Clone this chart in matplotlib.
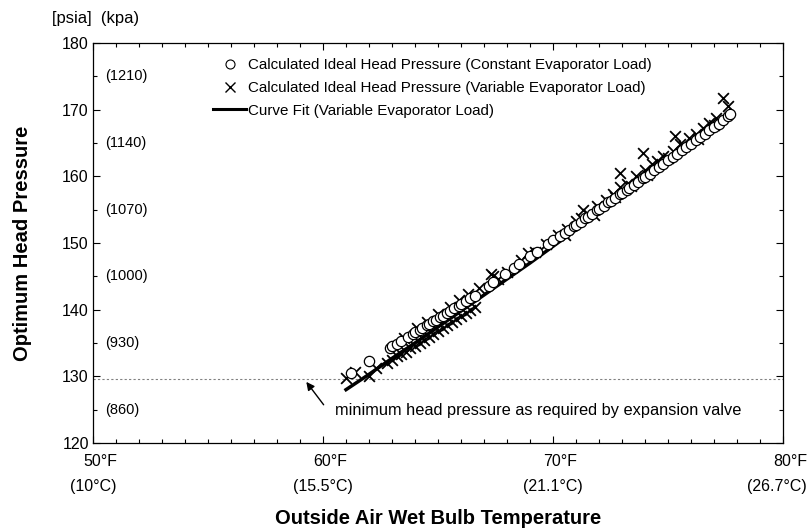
import matplotlib
matplotlib.use("Agg")
import matplotlib.pyplot as plt
from matplotlib.lines import Line2D
from matplotlib.ticker import MultipleLocator
import matplotlib.transforms as mtransforms

plt.rcParams['font.family'] = ['Liberation Sans', 'DejaVu Sans']

# x ticks (deg F) and their labels
xticks = [50, 60, 70, 80]
xlabels_f = ["50°F", "60°F", "70°F", "80°F"]
xlabels_c = ["(10°C)", "(15.5°C)", "(21.1°C)", "(26.7°C)"]
yticks = [120, 130, 140, 150, 160, 170, 180]
# kpa labels drawn inside the axes next to the minor ticks
kpa_pos = [175, 165, 155, 145, 135, 125]
kpa_labels = ["(1210)", "(1140)", "(1070)", "(1000)", "(930)", "(860)"]

# calculated ideal head pressure, constant evaporator load (circles)
const_x = [61.2, 62.0, 62.9, 63.0, 63.2, 63.4, 63.7, 63.9, 64.0, 64.2, 64.3, 64.5,
           64.6, 64.8, 64.9, 65.1, 65.2, 65.4, 65.5, 65.7, 65.9, 66.0, 66.2, 66.4,
           66.6, 67.2, 67.4, 67.9, 68.3, 68.5, 69.0, 69.3, 69.8, 70.0, 70.3, 70.5,
           70.7, 70.9, 71.0, 71.2, 71.4, 71.5, 71.7, 71.9, 72.0, 72.2, 72.4, 72.5,
           72.7, 72.9, 73.0, 73.2, 73.3, 73.5, 73.7, 73.9, 74.0, 74.2, 74.4, 74.6,
           74.8, 75.0, 75.2, 75.4, 75.6, 75.8, 76.0, 76.2, 76.4, 76.6, 76.8, 77.0,
           77.2, 77.4, 77.6, 77.7]
const_y = [130.5, 132.3, 134.3, 134.5, 134.9, 135.3, 135.9, 136.4, 136.6, 137.0, 137.2, 137.7,
           137.9, 138.3, 138.5, 138.9, 139.1, 139.5, 139.8, 140.2, 140.6, 140.9, 141.3, 141.7,
           142.1, 143.6, 144.1, 145.3, 146.3, 146.8, 148.0, 148.7, 149.9, 150.4, 151.1, 151.5,
           152.0, 152.5, 152.7, 153.2, 153.7, 153.9, 154.4, 154.9, 155.1, 155.6, 156.1, 156.3,
           156.8, 157.3, 157.5, 158.0, 158.2, 158.7, 159.2, 159.7, 159.9, 160.4, 160.9, 161.4,
           161.9, 162.4, 162.9, 163.4, 163.9, 164.4, 164.9, 165.4, 165.9, 166.4, 166.9, 167.4,
           167.9, 168.5, 169.0, 169.3]

# calculated ideal head pressure, variable evaporator load (crosses)
var_x = [61.0, 61.4, 62.0, 62.3, 62.8, 63.0, 63.2, 63.4, 63.6, 63.8, 64.0, 64.2,
         64.4, 64.6, 64.8, 65.0, 65.2, 65.4, 65.6, 65.8, 66.0, 66.2, 66.4, 66.6,
         63.5, 64.1, 64.5, 65.0, 65.5, 65.9, 66.3, 66.8, 67.3, 67.6, 68.0, 68.6,
         69.2, 69.7, 70.2, 70.6, 71.0, 71.2, 71.5, 71.9, 72.3, 72.6, 72.9, 73.2,
         73.6, 74.0, 74.3, 74.5, 74.8, 75.2, 75.5, 75.9, 76.2, 76.5, 76.8, 77.1,
         77.4, 77.6, 70.5, 71.8, 72.7, 73.4, 74.1, 75.0, 75.7, 76.3, 77.0, 75.3,
         73.9, 72.9, 71.3, 68.9, 67.4]
var_y = [129.8, 130.6, 130.0, 131.2, 132.0, 132.5, 133.0, 133.3, 133.7, 134.2, 134.6, 135.0,
         135.5, 135.9, 136.4, 136.8, 137.2, 137.7, 138.1, 138.6, 139.0, 139.5, 140.0, 140.4,
         135.8, 137.2, 138.2, 139.4, 140.4, 141.5, 142.4, 143.3, 145.3, 144.6, 145.6, 147.5,
         148.6, 149.8, 151.2, 152.1, 153.3, 153.8, 154.4, 155.6, 156.4, 157.3, 158.4, 158.9,
         160.1, 161.0, 161.8, 162.3, 163.0, 163.8, 164.8, 165.7, 166.4, 167.3, 168.0, 168.8,
         171.7, 170.5, 151.2, 154.2, 156.9, 158.6, 160.2, 162.8, 164.5, 165.6, 167.7, 166.0,
         163.5, 160.5, 154.9, 148.5, 145.0]

# curve fit (variable evaporator load)
fit_x = [61.0, 62.0, 63.0, 64.0, 65.0, 66.0, 67.0, 68.0, 69.0, 70.0, 71.0, 72.0,
         73.0, 74.0, 75.0, 76.0, 77.0, 77.7]
fit_y = [128.0, 130.3, 132.7, 135.0, 137.4, 139.8, 142.2, 144.6, 147.0, 149.5, 152.0, 154.5,
         157.0, 159.6, 162.2, 164.8, 167.6, 169.9]

min_pressure = 129.6

fig = plt.figure(figsize=(8.11, 5.29), dpi=100)
ax = fig.add_axes([0.1147, 0.1626, 0.8508, 0.7561])

ax.axhline(min_pressure, color="#808080", lw=0.8, ls=(0, (2, 2)), zorder=1)
ax.scatter(var_x, var_y, marker='x', s=60, color='black', linewidths=1.3, zorder=2)
ax.plot(fit_x, fit_y, color='black', lw=2.5, zorder=3)
ax.scatter(const_x, const_y, marker='o', s=55, facecolor='white', edgecolor='black',
           linewidths=0.9, zorder=4)

ax.set_xlim(50, 80)
ax.set_ylim(120, 180)
ax.set_xticks(xticks)
ax.set_xticklabels([])
ax.set_yticks(yticks)
ax.xaxis.set_minor_locator(MultipleLocator(1))
ax.yaxis.set_minor_locator(MultipleLocator(5))
ax.tick_params(which='both', direction='in', top=True, right=True, labelsize=11.5, pad=3)
ax.tick_params(which='major', length=5, width=0.8)
ax.tick_params(which='minor', length=3, width=0.8)
for s in ax.spines.values():
    s.set_linewidth(0.9)

# two line x tick labels (deg F above, deg C below)
for i, (xt, lf, lc) in enumerate(zip(xticks, xlabels_f, xlabels_c)):
    ax.annotate(lf, xy=(xt, 0), xycoords=('data', 'axes fraction'), xytext=(7, -19),
                textcoords='offset pixels', ha='center', va='center', fontsize=11.5)
    dx = -6 if i == len(xticks) - 1 else 0
    ax.annotate(lc, xy=(xt, 0), xycoords=('data', 'axes fraction'), xytext=(dx, -44),
                textcoords='offset pixels', ha='center', va='center', fontsize=11.5)

fig.text(438 / 811, 1 - 518 / 529, "Outside Air Wet Bulb Temperature", fontsize=14.5,
         fontweight='bold', ha='center', va='center')
fig.text(23 / 811, 1 - 243 / 529, "Optimum Head Pressure", fontsize=14.5,
         fontweight='bold', ha='center', va='center', rotation=90)

trans = mtransforms.blended_transform_factory(ax.transAxes, ax.transData)
for p, lab in zip(kpa_pos, kpa_labels):
    ax.text(0.018, p, lab, transform=trans, fontsize=10.5, va='center', ha='left')

fig.text(52 / 811, 1 - 18 / 529, "[psia]  (kpa)", fontsize=12, va='center', ha='left')

# arrow to the minimum pressure line
ax.annotate("", xy=(59.2, 129.5), xytext=(60.1, 125.4),
            arrowprops=dict(arrowstyle='-|>', color='black', lw=1.0, mutation_scale=12))
ax.text(60.5, 124.8, "minimum head pressure as required by expansion valve",
        fontsize=11.8, va='center', ha='left')

handles = [
    Line2D([], [], ls='none', marker='o', markersize=6.5, markerfacecolor='white',
           markeredgecolor='black', markeredgewidth=0.8),
    Line2D([], [], ls='none', marker='x', markersize=7, color='black', markeredgewidth=1.0),
    Line2D([], [], color='black', lw=2.2),
]
labels = ["Calculated Ideal Head Pressure (Constant Evaporator Load)",
          "Calculated Ideal Head Pressure (Variable Evaporator Load)",
          "Curve Fit (Variable Evaporator Load)"]
ax.legend(handles, labels, loc='upper left', bbox_to_anchor=(0.174, 0.962), frameon=False,
          fontsize=10.9, handlelength=2.2, handletextpad=0.1, labelspacing=0.58,
          borderpad=0, borderaxespad=0)

fig.savefig("out.png", dpi=100)
